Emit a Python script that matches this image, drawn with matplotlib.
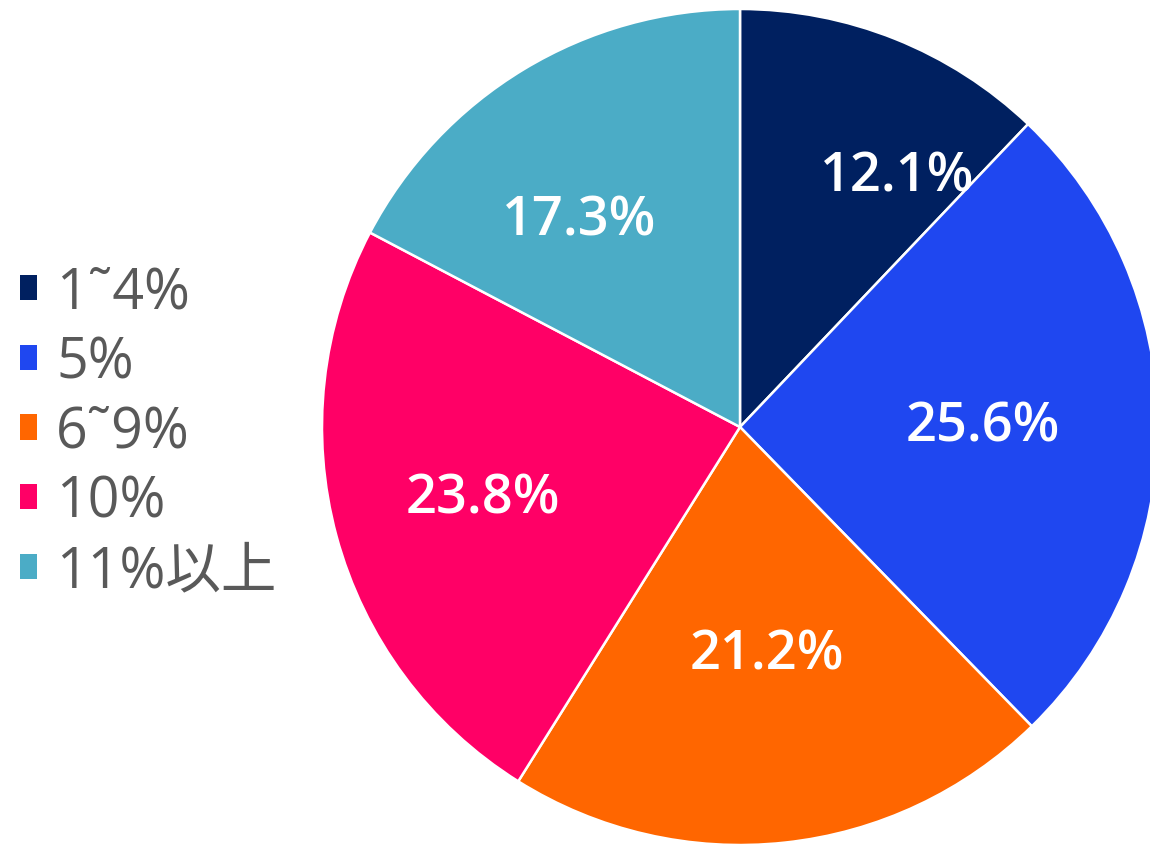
import matplotlib
matplotlib.use("Agg")
import matplotlib.pyplot as plt
from matplotlib.patches import Patch

plt.rcParams['font.family'] = ['Open Sans', 'Noto Sans CJK JP', 'DejaVu Sans']

categories = ['1˜4%', '5%', '6˜9%', '10%', '11%以上']
shares = [12.1, 25.6, 21.2, 23.8, 17.3]
colors = ['#002060', '#1F47F0', '#FF6600', '#FF0066', '#4BACC6']
# label offsets from the centre, in radius units (placed by hand like the original)
label_pos = [(0.375, 0.60), (0.58, 0.0), (0.065, -0.545), (-0.615, -0.17), (-0.385, 0.495)]

fig = plt.figure(figsize=(11.5, 8.45), dpi=100)
ax = fig.add_axes([0, 0, 1, 1])

wedges, _ = ax.pie(shares, colors=colors, startangle=90, counterclock=False,
                   wedgeprops=dict(edgecolor='white', linewidth=1.8))

for (x, y), v in zip(label_pos, shares):
    ax.text(x, y, f'{v:.1f}%', ha='center', va='center', color='white',
            fontsize=39, fontweight='semibold')

ax.set_aspect('auto')
ax.set_xlim(-740 / 418, 410 / 418)
ax.set_ylim(-417 / 418, 428 / 418)
ax.axis('off')

handles = [Patch(facecolor=c, edgecolor='none') for c in colors]
leg = fig.legend(handles, categories, loc='center left', bbox_to_anchor=(0.017, 0.487),
                 frameon=False, fontsize=40, handlelength=0.32, handleheight=0.32,
                 handletextpad=0.34, labelspacing=0.23, borderaxespad=0, borderpad=0)
for t in leg.get_texts():
    t.set_color('#595959')

fig.savefig('out.png', dpi=100)
